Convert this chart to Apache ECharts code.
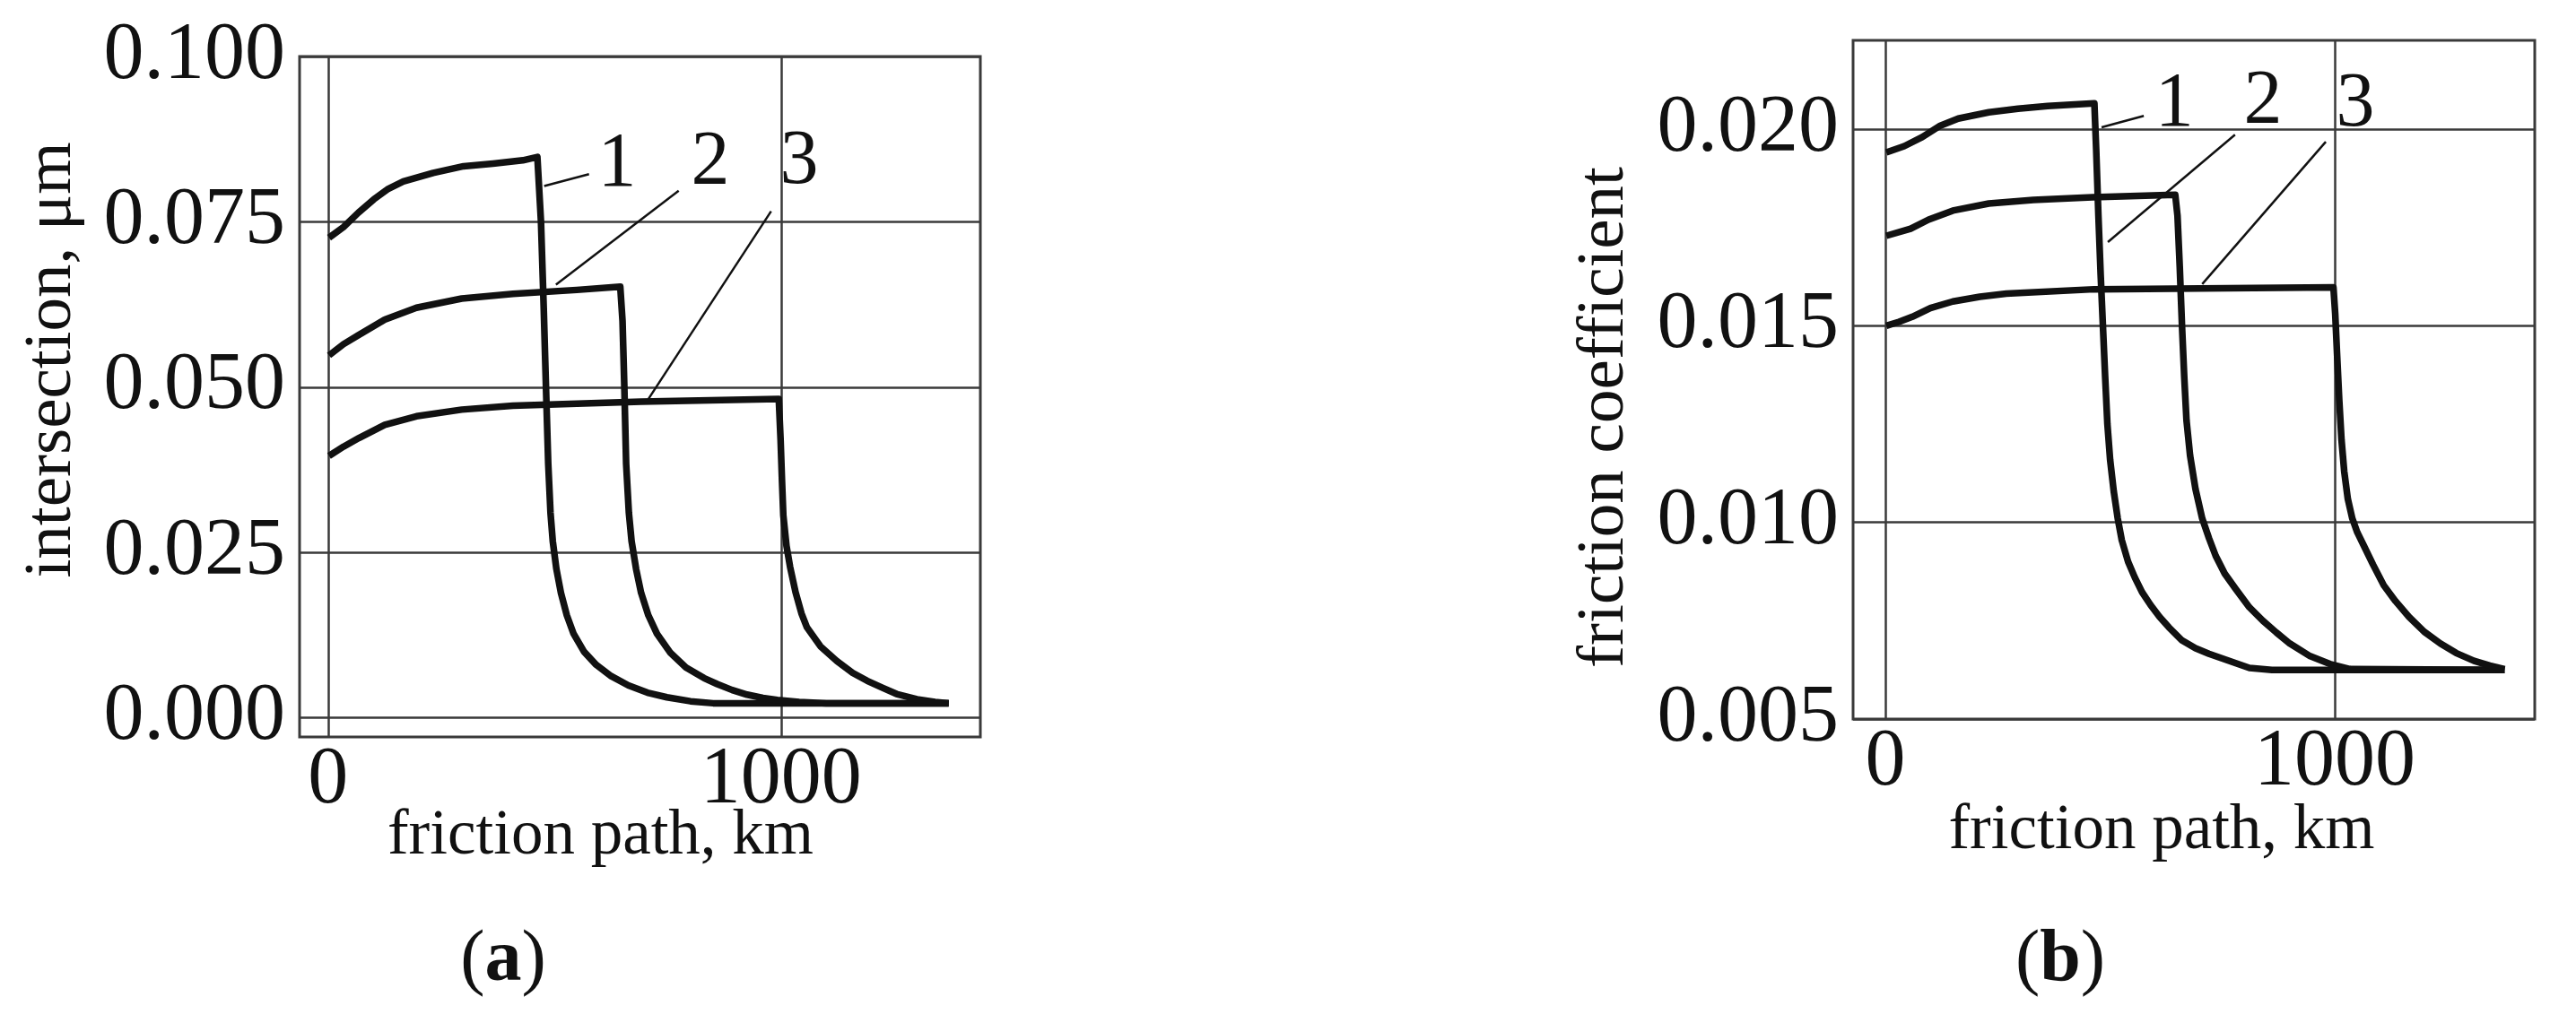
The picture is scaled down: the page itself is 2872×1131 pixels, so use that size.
<!DOCTYPE html>
<html>
<head>
<meta charset="utf-8">
<title>friction path</title>
<script src="https://cdn.jsdelivr.net/npm/echarts@6/dist/echarts.min.js"></script>
<style>
html, body {margin: 0; padding: 0; background: #fff;}
#main {width: 2872px; height: 1131px;}
</style>
</head>
<body>
<div id="main"></div>
<script>
// tick values
var xTicks = [0, 1000];
var yTicksA = [0, 0.025, 0.05, 0.075, 0.1];
var yTicksB = [0.005, 0.010, 0.015, 0.020];

// (a) intersection, um  [friction path km, value]
var interA1 = [[2,0.0726],[34,0.0742],[67,0.0764],[101,0.0784],[133,0.0800],[166,0.0811],[232,0.0824],[299,0.0834],[364,0.0838],[430,0.0843],[462,0.0848],[470,0.0750],[476,0.0620],[481,0.0500],[486,0.0384],[491,0.0310],[496,0.0267],[504,0.0225],[514,0.0189],[527,0.0155],[542,0.0127],[565,0.0100],[592,0.0080],[625,0.0063],[663,0.0049],[705,0.0038],[748,0.0031],[800,0.0025],[850,0.0022],[1370,0.0022]];
var interA2 = [[2,0.0548],[34,0.0565],[68,0.0579],[125,0.0602],[195,0.0620],[295,0.0634],[408,0.0641],[549,0.0647],[645,0.0652],[650,0.0600],[654,0.0500],[658,0.0384],[664,0.0310],[670,0.0267],[680,0.0225],[691,0.0189],[707,0.0155],[726,0.0127],[756,0.0098],[790,0.0076],[830,0.0060],[859,0.0051],[892,0.0042],[925,0.0035],[960,0.0030],[992,0.0027],[1040,0.0024],[1100,0.0022],[1370,0.0022]];
var interA3 = [[2,0.0396],[34,0.0410],[68,0.0423],[125,0.0443],[195,0.0456],[295,0.0466],[408,0.0472],[691,0.0478],[995,0.0482],[999,0.0420],[1002,0.0360],[1005,0.0306],[1012,0.0260],[1020,0.0228],[1032,0.0190],[1045,0.0158],[1057,0.0137],[1087,0.0108],[1123,0.0086],[1158,0.0068],[1190,0.0056],[1225,0.0045],[1255,0.0036],[1300,0.0028],[1340,0.0024],[1370,0.0022]];

// (b) friction coefficient
var fricB1 = [[2,0.01941],[42,0.01957],[82,0.01980],[122,0.02009],[162,0.02027],[230,0.02043],[295,0.02052],[361,0.02059],[465,0.02066],[469,0.0195],[474,0.0178],[479,0.0163],[484,0.0150],[489,0.0137],[494,0.0125],[500,0.0116],[508,0.0108],[517,0.0101],[526,0.00955],[540,0.0090],[555,0.0086],[571,0.00823],[590,0.0079],[610,0.0076],[631,0.00733],[660,0.0070],[690,0.0068],[720,0.00666],[760,0.0065],[810,0.0063],[860,0.00625],[1378,0.00625]];
var fricB2 = [[2,0.01729],[56,0.01747],[96,0.01770],[150,0.01793],[230,0.01811],[329,0.01820],[461,0.01827],[645,0.01833],[650,0.0178],[655,0.0165],[660,0.0150],[665,0.0137],[670,0.0126],[678,0.0117],[690,0.01085],[705,0.0101],[720,0.0096],[735,0.00915],[755,0.0087],[780,0.0083],[810,0.00784],[840,0.0075],[870,0.0072],[900,0.00692],[945,0.0066],[989,0.0064],[1034,0.00627],[1378,0.00625]];
var fricB3 = [[2,0.0150],[30,0.0151],[60,0.01523],[100,0.01545],[150,0.01562],[210,0.01574],[269,0.01582],[464,0.01593],[997,0.01598],[1001,0.0153],[1005,0.0143],[1010,0.0131],[1015,0.0121],[1021,0.0113],[1029,0.0106],[1039,0.0101],[1050,0.00975],[1065,0.0094],[1085,0.00893],[1109,0.0084],[1135,0.0080],[1165,0.0076],[1199,0.00722],[1235,0.00692],[1270,0.00668],[1310,0.00648],[1345,0.00636],[1378,0.00627]];

// curve numbers: leader line [x1,y1,x2,y2] and label spot
var curveTags = ['1', '2', '3'];
var leadA = [[477,0.0804,576,0.0822],[503,0.0655,774,0.0797],[707,0.0482,978,0.0766]];
var tagA = [[638,0.0835],[844,0.0838],[1040,0.0839]];
var leadB = [[481,0.02005,575,0.02034],[495,0.01713,778,0.01986],[705,0.01606,980,0.01968]];
var tagB = [[643,0.02062],[840,0.02068],[1046,0.02062]];

var font = '"Liberation Serif", "Times New Roman", serif';
var ink = '#111';
var rule = {color: '#3a3a3a', width: 2.5};

var myChart = echarts.init(document.getElementById('main'));

function xAx(gi, min, max, gap, pad) {
    return {
        type: 'value', gridIndex: gi, min: min, max: max,
        name: 'friction path, km', nameLocation: 'middle', nameGap: gap, nameMoveOverlap: false,
        nameTextStyle: {fontFamily: font, fontSize: 71, color: ink, padding: pad},
        axisLine: {show: false},
        axisTick: {show: false, customValues: xTicks},
        axisLabel: {
            customValues: xTicks, margin: 4, fontFamily: font, fontSize: 90, color: ink,
            formatter: function (v) { return String(Math.round(v)); }
        },
        splitLine: {show: true, customValues: xTicks, lineStyle: rule}
    };
}

function yAx(gi, min, max, ticks, title, gap, pad) {
    return {
        type: 'value', gridIndex: gi, min: min, max: max,
        name: title, nameLocation: 'middle', nameRotate: 90, nameGap: gap, nameMoveOverlap: false,
        nameTextStyle: {fontFamily: font, fontSize: 75, color: ink, padding: pad},
        axisLine: {show: false},
        axisTick: {show: false, customValues: ticks},
        axisLabel: {
            customValues: ticks, margin: 16, fontFamily: font, fontSize: 90, color: ink,
            formatter: function (v) { return v.toFixed(3); }
        },
        splitLine: {show: true, customValues: ticks, lineStyle: rule}
    };
}

function curve(data, gi, lead, tag, text) {
    return {
        type: 'line', xAxisIndex: gi, yAxisIndex: gi, data: data,
        showSymbol: false, symbol: 'none', silent: true, z: 5,
        lineStyle: {color: ink, width: 7.5, join: 'round'},
        markLine: {
            silent: true, symbol: ['none', 'none'], animation: false,
            label: {show: false},
            lineStyle: {color: ink, width: 2.5, type: 'solid'},
            data: [[{coord: [lead[0], lead[1]]}, {coord: [lead[2], lead[3]]}]]
        },
        markPoint: {
            silent: true, symbol: 'circle', symbolSize: 0, animation: false,
            label: {show: true, position: 'inside', formatter: text, fontFamily: font, fontSize: 86, color: ink},
            data: [{coord: [tag[0], tag[1]]}]
        }
    };
}

var option = {
    animation: false,
    backgroundColor: '#fff',
    grid: [
        {left: 334, top: 63, width: 759, height: 759, show: true, borderColor: '#3a3a3a', borderWidth: 3, outerBoundsMode: 'none', containLabel: false},
        {left: 2066, top: 45, width: 760, height: 757, show: true, borderColor: '#3a3a3a', borderWidth: 3, outerBoundsMode: 'none', containLabel: false}
    ],
    xAxis: [
        xAx(0, -63, 1440, 76, [0, 88, 0, 0]),
        xAx(1, -72, 1445, 90, [0, 72, 0, 0])
    ],
    yAxis: [
        yAx(0, -0.0029, 0.1, yTicksA, 'intersection, μm', 238, [0, 0, 0, 82]),
        yAx(1, 0.005, 0.02226, yTicksB, 'friction coefficient', 239, [0, 84, 0, 0])
    ],
    series: [
        curve(interA1, 0, leadA[0], tagA[0], curveTags[0]),
        curve(interA2, 0, leadA[1], tagA[1], curveTags[1]),
        curve(interA3, 0, leadA[2], tagA[2], curveTags[2]),
        curve(fricB1, 1, leadB[0], tagB[0], curveTags[0]),
        curve(fricB2, 1, leadB[1], tagB[1], curveTags[1]),
        curve(fricB3, 1, leadB[2], tagB[2], curveTags[2])
    ],
    graphic: [
        {type: 'text', x: 561, y: 1072, silent: true, style: {
            text: '({b|a})', align: 'center', verticalAlign: 'middle',
            fontFamily: font, fontSize: 82, fill: ink,
            rich: {b: {fontFamily: font, fontSize: 82, fontWeight: 'bold', fill: ink}}
        }},
        {type: 'text', x: 2297, y: 1072, silent: true, style: {
            text: '({b|b})', align: 'center', verticalAlign: 'middle',
            fontFamily: font, fontSize: 82, fill: ink,
            rich: {b: {fontFamily: font, fontSize: 82, fontWeight: 'bold', fill: ink}}
        }}
    ]
};
myChart.setOption(option);
</script>
</body>
</html>
